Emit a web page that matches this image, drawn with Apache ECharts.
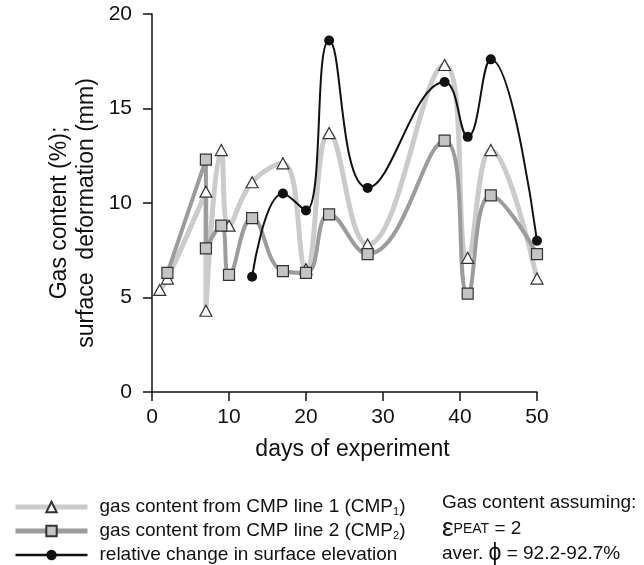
<!DOCTYPE html>
<html lang="en">
<head>
    <meta charset="UTF-8">
    <title>gas content</title>
    <style>
        html, body { margin: 0; padding: 0; background: #fff; }
        #main { width: 644px; height: 565px; }
    </style>
</head>
<body>
    <div id="main"></div>
    <script src="https://cdn.jsdelivr.net/npm/echarts@6/dist/echarts.min.js"></script>
    <script>
        // CMP line 1 (triangles)
        const cmp1Days = [1, 2, 7, 7, 9, 10, 13, 17, 20, 23, 28, 38, 41, 44, 50];
        const cmp1Vals = [5.4, 6.0, 10.6, 4.3, 12.8, 8.8, 11.1, 12.1, 6.5, 13.7, 7.8, 17.3, 7.1, 12.8, 6.0];
        // CMP line 2 (squares)
        const cmp2Days = [2, 7, 7, 9, 10, 13, 17, 20, 23, 28, 38, 41, 44, 50];
        const cmp2Vals = [6.3, 12.3, 7.6, 8.8, 6.2, 9.2, 6.4, 6.3, 9.4, 7.3, 13.3, 5.2, 10.4, 7.3];
        // surface elevation (black dots)
        const elevDays = [13, 17, 20, 23, 28, 38, 41, 44, 50];
        const elevVals = [6.1, 10.5, 9.6, 18.6, 10.8, 16.4, 13.5, 17.6, 8.0];

        const names = [
            'gas content from CMP line 1 (CMP1)',
            'gas content from CMP line 2 (CMP2)',
            'relative change in surface elevation'
        ];
        const lineColors = ['#cbcbcb', '#9c9c9c', '#111'];
        const lineWidths = [5, 4, 2];

        const pairs = (xs, ys) => xs.map((x, i) => [x, ys[i]]);
        const font = 'Liberation Sans, Arial, sans-serif';

        const chart = echarts.init(document.getElementById('main'));
        chart.setOption({
            animation: false,
            textStyle: { fontFamily: font, color: '#111' },
            grid: { left: 152, right: 107, top: 14, bottom: 173 },
            xAxis: {
                type: 'value', min: 0, max: 50, interval: 10,
                name: 'days of experiment', nameLocation: 'middle', nameGap: 46,
                nameTextStyle: { fontSize: 23, color: '#111', padding: [0, 0, 0, 16] },
                axisLine: { onZero: false, lineStyle: { color: '#111', width: 1.5 } },
                axisTick: { length: 9, lineStyle: { color: '#111', width: 1.5 } },
                axisLabel: { fontSize: 21, color: '#111', margin: 15 },
                splitLine: { show: false }
            },
            yAxis: {
                type: 'value', min: 0, max: 20, interval: 5,
                axisLine: { show: true, lineStyle: { color: '#111', width: 1.5 } },
                axisTick: { show: true, length: 9, lineStyle: { color: '#111', width: 1.5 } },
                axisLabel: { fontSize: 21, color: '#111', margin: 20 },
                splitLine: { show: false }
            },
            legend: {
                orient: 'vertical', left: 13, top: 497, padding: 0,
                itemWidth: 72, itemHeight: 13, itemGap: 4,
                data: names.map((n, i) => ({
                    name: n,
                    lineStyle: { color: lineColors[i], width: i === 2 ? 2.5 : 5 }
                })),
                textStyle: {
                    fontSize: 19, color: '#111', lineHeight: 20, padding: [0, 0, 0, 7],
                    rich: { sub: { fontSize: 11, lineHeight: 20, verticalAlign: 'bottom', padding: [7, 0, 0, 0] } }
                },
                formatter: n => n.replace(/\(CMP(\d)\)/, '(CMP{sub|$1})')
            },
            graphic: [
                {
                    type: 'text', x: 73, y: 213, rotation: Math.PI / 2,
                    style: {
                        text: 'Gas content (%);\nsurface  deformation (mm)',
                        font: '23px ' + font, fill: '#111', lineHeight: 27,
                        align: 'center', verticalAlign: 'middle'
                    }
                },
                {
                    type: 'text', x: 442, y: 503,
                    style: { text: 'Gas content assuming:', font: '19px ' + font, fill: '#111', verticalAlign: 'middle' }
                },
                {
                    type: 'text', x: 442, y: 529,
                    style: {
                        text: '{e|ε}{s|PEAT} = 2', font: '19px ' + font, fill: '#111', verticalAlign: 'middle',
                        rich: {
                            e: { fontSize: 26, fill: '#111' },
                            s: { fontSize: 14, fill: '#111' }
                        }
                    }
                },
                {
                    type: 'text', x: 442, y: 554,
                    style: {
                        text: 'aver. {p|ϕ} = 92.2-92.7%', font: '19px ' + font, fill: '#111', verticalAlign: 'middle',
                        rich: { p: { fontSize: 23, fill: '#111' } }
                    }
                }
            ],
            series: [
                {
                    name: names[0], type: 'line', smooth: 0.45,
                    data: pairs(cmp1Days, cmp1Vals),
                    symbol: 'triangle', symbolSize: [12, 11],
                    lineStyle: { color: lineColors[0], width: lineWidths[0] },
                    itemStyle: { color: '#fafafa', borderColor: '#333', borderWidth: 1.2 }
                },
                {
                    name: names[1], type: 'line', smooth: 0.45,
                    data: pairs(cmp2Days, cmp2Vals),
                    symbol: 'rect', symbolSize: 11,
                    lineStyle: { color: lineColors[1], width: lineWidths[1] },
                    itemStyle: { color: '#c4c4c4', borderColor: '#333', borderWidth: 1.2 }
                },
                {
                    name: names[2], type: 'line', smooth: 0.45,
                    data: pairs(elevDays, elevVals),
                    symbol: 'circle', symbolSize: 10,
                    lineStyle: { color: lineColors[2], width: lineWidths[2] },
                    itemStyle: { color: '#111' }
                }
            ]
        });
    </script>
</body>
</html>
